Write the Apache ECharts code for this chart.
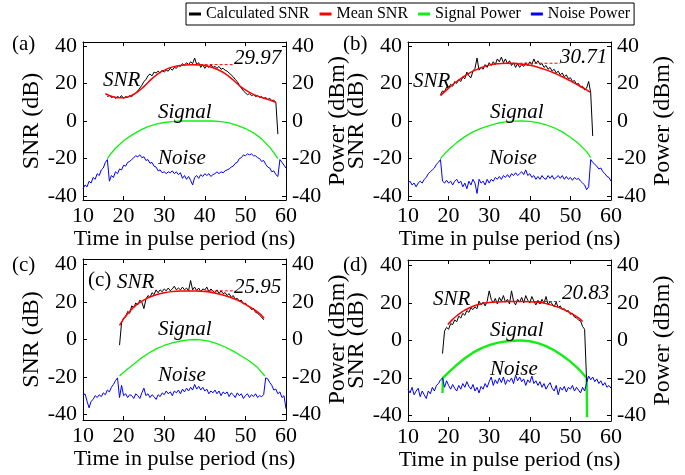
<!DOCTYPE html>
<html><head><meta charset="utf-8">
<script src="https://cdn.jsdelivr.net/npm/echarts@6/dist/echarts.min.js"></script>
<style>html,body{margin:0;padding:0;background:#fff}#c{width:685px;height:475px}</style>
</head><body><div id="c"></div>
<script>
// ---------- data ----------
const timeTicks = [10, 20, 30, 40, 50, 60];
const yTickValues = [-40, -20, 0, 20, 40];
const legendNames = ['Calculated SNR', 'Mean SNR', 'Signal Power', 'Noise Power'];
const STEP = 0.5; // ns between samples of the noisy traces

// ----- panel (a) -----
const snrA_start = 16;
const snrA = [
  13, 13.5, 12.5, 13, 12, 13, 12.5, 13.5, 12, 13,
  12.5, 13.5, 13, 14, 15, 16, 17.5, 19, 21, 22,
  24, 25, 24, 26, 25.5, 26.5, 25.5, 27, 26, 27,
  26.5, 28, 27, 28.5, 28, 29.5, 29, 30.5, 29.5, 31,
  30, 31.5, 30.5, 33.5, 30, 31, 28.5, 30, 28, 29.5,
  28.5, 30, 28.5, 29, 28, 29, 27.5, 28, 27, 26.5,
  25.5, 24.5, 23.5, 22, 21, 19, 17.5, 16, 15, 14,
  14.5, 13.5, 14, 13, 13.5, 12.5, 13, 12, 12.5, 11.5,
  12, 11, 11, 10, -7
];
const meanA = [[15.5,14.5],[17,13.2],[19,12.3],[21,12.8],[23,14.8],[25,18.3],[27,22.5],[29,25.8],[31,28],[33,29.2],[35,29.8],[37,29.97],[39,29.8],[41,29],[43,27.5],[45,25.2],[47,21.8],[49,18],[51,15.2],[53,13.2],[55,11.8],[57.5,10]];
const signalA = [[16,-20],[17,-17],[18,-14.5],[20,-10.5],[22,-7.5],[24,-5],[26,-3],[28,-1.7],[30,-0.8],[32,-0.3],[34,0],[38,0],[42,0],[44,-0.3],[46,-1],[48,-2.3],[50,-4],[52,-6.3],[54,-9.5],[56,-14],[57,-16.8],[58,-20]];
const noiseA_start = 10;
const noiseA = [
  -36, -34, -35, -32, -33, -30, -31, -28, -29, -26,
  -25, -22, -20.5, -32, -29, -30, -27, -28, -25.5, -26,
  -23.5, -24, -22, -21.5, -20.5, -19.5, -18.5, -19, -18, -19.5,
  -19, -21, -20.5, -22.5, -22, -24, -24.5, -26.5, -26, -27.5,
  -27, -28, -27, -27.5, -26.5, -28, -27, -28.5, -27.5, -30.5,
  -29, -31, -29.5, -31.5, -34, -30, -29, -30.5, -28.5, -29.5,
  -28, -29, -28, -29.5, -28.5, -28, -27, -28, -27, -27.5,
  -26.5, -26, -25.5, -24.5, -24, -22.5, -22, -20, -19.5, -18,
  -18.5, -17.5, -18, -17.5, -18.5, -18.5, -19.5, -20, -21.5, -21,
  -23, -24.5, -25, -27, -26.5, -28.5, -29.5, -20.5, -22, -23.5,
  -25
];
const dashA = [[37.5, 29.97], [47, 29.97]];
const peakLabelA = '29.97';

// ----- panel (b) -----
const snrB_start = 18;
const snrB = [
  14, 16, 15.5, 18, 17.5, 19.5, 18.5, 21, 20, 22,
  21, 23.5, 22.5, 26, 24, 23, 26.5, 28, 33.5, 27,
  28.5, 27.5, 30, 28.5, 31, 29.5, 31.5, 30, 33, 31.5,
  34, 31, 33, 30.5, 32, 29.5, 31, 28.5, 30.5, 28.5,
  30, 29, 31, 29.5, 31.5, 30, 33, 30.5, 32, 30,
  30.5, 28.5, 29.5, 27.5, 28.5, 26.5, 27.5, 25.5, 26.5, 24.5,
  25.5, 23.5, 24.5, 22.5, 23, 21, 21.5, 19.5, 20, 18,
  18.5, 16.5, 17.5, 21, 15, -8
];
const meanB = [[18,13.5],[20,17.5],[22,21],[24,24],[26,26.5],[28,28.4],[30,29.7],[32,30.4],[34,30.71],[36,30.6],[38,30.2],[40,29.6],[42,28.6],[44,27.2],[46,25.5],[48,23.5],[50,21.3],[52,19],[54,16.5],[54.8,15.3]];
const signalB = [[18,-20],[19,-17.5],[20,-15.3],[22,-11.5],[24,-8.3],[26,-5.8],[28,-3.9],[30,-2.4],[32,-1.2],[34,-0.5],[36,-0.1],[38,0],[40,-0.2],[42,-0.9],[44,-2],[46,-3.6],[48,-5.8],[50,-8.6],[52,-12],[54,-16.3],[55,-19.5]];
const noiseB_start = 10;
const noiseB = [
  -33, -32, -34, -33, -35, -33, -32, -33, -31, -30,
  -28, -27, -26, -25, -23, -22, -20.5, -32, -33, -31.5,
  -33, -32, -34, -32, -31, -33, -32, -35, -33, -36,
  -32, -34, -31, -33, -38.5, -31, -33, -32, -34, -31,
  -33, -31, -32, -30, -31, -29.5, -31, -29, -30, -28.5,
  -30, -28, -29, -27.5, -29, -28, -27, -28.5, -26, -29,
  -28, -30, -29, -31, -29.5, -31, -29, -30.5, -31, -29,
  -30.5, -29, -31, -30, -29, -30.5, -29, -31, -29.5, -31,
  -30, -31.5, -30, -31, -30.5, -32, -33, -34, -36.5, -35,
  -20.5, -22, -23, -24, -25.5, -25, -27, -28, -29.5, -30,
  -32
];
const dashB = [[35, 30.71], [47.5, 30.71]];
const peakLabelB = '30.71';

// ----- panel (c) -----
const snrC_start = 19;
const snrC = [
  -3, 9, 11.5, 12, 15, 14, 18, 17, 19.5, 18.5,
  21, 20, 16.5, 21.5, 23.5, 22.5, 25, 24, 26.5, 25,
  26.5, 25.5, 27, 26, 27.5, 26, 27, 28.5, 26.5, 27.5,
  26.5, 28, 26.5, 27.5, 26, 31.5, 26.5, 28, 26, 27.5,
  25.5, 27, 26.5, 28, 25.5, 27, 26, 25, 26.5, 24.5,
  26, 24.5, 25, 23.5, 24.5, 22.5, 23.5, 21.5, 22, 20.5,
  21, 19, 19.5, 18, 17.5, 16, 16.5, 14.5, 14, 13,
  12, 10.5
];
const meanC = [[19,7.5],[20,11],[21,13.8],[22,16.2],[23,18.2],[24,19.8],[26,22.2],[28,23.9],[30,25],[32,25.6],[34,25.9],[36,25.95],[38,25.9],[40,25.6],[42,25],[44,24],[46,22.7],[48,21],[50,18.8],[52,16.2],[53.5,13.8],[54.6,11.3]];
const signalC = [[19,-19.5],[20,-17.5],[22,-14],[24,-10.5],[26,-7.5],[28,-5],[30,-3.2],[32,-1.8],[34,-0.8],[36,-0.2],[37.5,0],[39,-0.2],[41,-0.9],[43,-2.2],[45,-4],[47,-6.2],[49,-8.8],[51,-11.5],[53,-15],[54.8,-19.5]];
const noiseC_start = 10;
const noiseC = [
  -30, -29, -33, -36.5, -33, -32, -30, -31, -29.5, -30.5,
  -28.5, -29.5, -27, -28, -25.5, -24, -22, -20.5, -31, -24.5,
  -30, -29, -31, -29.5, -30, -31.5, -29, -30, -31.5, -28.5,
  -26, -30, -29, -31, -29.5, -30.5, -32, -29.5, -30.5, -28.5,
  -29.5, -27.5, -29, -28, -30, -27.5, -28.5, -27, -29, -26.5,
  -28, -26, -27.5, -25.5, -27, -24, -26.5, -25, -27, -25.5,
  -27.5, -26.5, -29, -27.5, -28.5, -27, -29, -27.5, -30, -28,
  -29, -28, -30.5, -28.5, -29.5, -31, -28.5, -30, -29, -31.5,
  -30, -29, -31, -29.5, -30.5, -29, -31, -30, -30.5, -29.5,
  -20.5, -21, -23, -24.5, -27, -26.5, -29, -28, -31, -30,
  -37
];
const dashC = [[40, 25.95], [47.5, 25.95]];
const peakLabelC = '25.95';

// ----- panel (d) -----
const snrD_start = 18.5;
const snrD = [
  -7, 5, 7, 6, 9, 8.5, 11, 10, 13, 12,
  14.5, 13.5, 16, 15, 17.5, 16.5, 18, 17, 21, 19,
  20.5, 18.5, 21, 26.5, 22, 20, 22.5, 19.5, 23, 21,
  24, 20.5, 22, 19.5, 26.5, 21, 19, 22, 20.5, 23,
  20, 24, 21.5, 20, 23.5, 21, 19, 21.5, 19.5, 22,
  20, 23.5, 19, 21, 19.5, 18, 20.5, 17.5, 18.5, 16.5,
  17, 15.5, 16, 14, 14.5, 12.5, 12, 11, 10.5, 7.5,
  6, -22
];
const meanD = [[19.8,8.5],[21,11.3],[22,13.2],[23,14.8],[24,16.2],[26,18.3],[28,19.6],[30,20.3],[32,20.6],[34,20.75],[36,20.83],[38,20.83],[40,20.75],[42,20.4],[44,19.7],[46,18.5],[48,16.9],[50,14.8],[52,12.1],[53,10.2]];
const signalD = [[18.5,-28],[18.6,-20],[20,-17],[22,-13],[24,-9.5],[26,-6.5],[28,-4.2],[30,-2.5],[32,-1.3],[34,-0.5],[36,-0.1],[37,0],[38,0],[40,-0.4],[42,-1.4],[44,-3],[46,-5.2],[48,-8],[50,-11.3],[52,-15.2],[53,-17.5],[54,-20],[54.1,-41]];
const noiseD_start = 10;
const noiseD = [
  -26, -28, -25, -29, -27, -25.5, -30, -27, -29, -31,
  -27, -28.5, -25, -27, -24, -23, -21, -20, -25, -21.5,
  -24, -26, -23.5, -25.5, -27, -24, -26, -23, -25, -22,
  -24.5, -26, -23.5, -27, -25, -28, -24.5, -26, -23, -25,
  -22, -19.5, -24, -21, -23, -20, -22.5, -19.5, -23.5, -21,
  -22, -20, -23, -18.5, -21.5, -19.5, -22, -20.5, -24, -21,
  -22.5, -19, -23, -21.5, -24, -22, -25, -23, -26, -24,
  -22.5, -25.5, -27, -24, -29, -25, -26.5, -24.5, -27.5, -25,
  -26, -24, -27, -25, -26.5, -28, -25, -27, -22.5, -19,
  -21, -19.5, -22, -20.5, -23, -21.5, -24, -22.5, -25, -24,
  -25.5
];
const dashD = [[41, 20.83], [47.5, 20.83]];
const peakLabelD = '20.83';

// ---------- layout / style ----------
const FONT = '"Liberation Serif", "Times New Roman", serif';
const panels = [
  { tag: '(a)', grid: { left: 83, top: 42, width: 203, height: 158 }, yr: [-42, 42],
    snr: [snrA_start, snrA], mean: meanA, signal: signalA, noise: [noiseA_start, noiseA], dash: dashA, peak: peakLabelA, sigW: 1.3,
    tagPos: [12, 44], snrPos: [103, 80], sigPos: [158, 112], noisePos: [158, 158], peakPos: [234, 58] },
  { tag: '(b)', grid: { left: 408, top: 42, width: 203, height: 158 }, yr: [-42, 42],
    snr: [snrB_start, snrB], mean: meanB, signal: signalB, noise: [noiseB_start, noiseB], dash: dashB, peak: peakLabelB, sigW: 1.3,
    tagPos: [343, 44], snrPos: [413, 81], sigPos: [490, 112], noisePos: [489, 158], peakPos: [560, 57] },
  { tag: '(c)', grid: { left: 83, top: 259, width: 203, height: 161 }, yr: [-43, 43],
    snr: [snrC_start, snrC], mean: meanC, signal: signalC, noise: [noiseC_start, noiseC], dash: dashC, peak: peakLabelC, sigW: 1.3,
    tagPos: [12, 265], snrPos: [117, 282], sigPos: [158, 329], noisePos: [158, 375], peakPos: [234, 287], innerTag: [88, 280] },
  { tag: '(d)', grid: { left: 408, top: 260, width: 203, height: 161 }, yr: [-43, 43],
    snr: [snrD_start, snrD], mean: meanD, signal: signalD, noise: [noiseD_start, noiseD], dash: dashD, peak: peakLabelD, sigW: 2.4,
    tagPos: [343, 265], snrPos: [433, 299], sigPos: [490, 330], noisePos: [490, 369], peakPos: [562, 293] }
];

function seq(start, vals) { return vals.map((v, i) => [start + i * STEP, v]); }

const labelStyle = { fontFamily: FONT, fontSize: 22, color: '#000' };
const grids = [], xAxes = [], yAxes = [], series = [], graphics = [];

panels.forEach((p, i) => {
  grids.push(Object.assign({ containLabel: false }, p.grid));
  xAxes.push({ gridIndex: i, type: 'value', position: 'bottom', min: 10, max: 60, interval: 10,
    name: 'Time in pulse period (ns)', nameLocation: 'middle', nameGap: 25,
    nameTextStyle: { fontFamily: FONT, fontSize: 22, color: '#000' },
    axisLine: { onZero: false, lineStyle: { color: '#000', width: 1 } },
    axisTick: { inside: true, length: 4, lineStyle: { color: '#000' } },
    axisLabel: Object.assign({ margin: 5, customValues: timeTicks }, labelStyle),
    splitLine: { show: false } });
  xAxes.push({ gridIndex: i, type: 'value', position: 'top', min: 10, max: 60, interval: 10,
    axisLine: { onZero: false, lineStyle: { color: '#000', width: 1 } },
    axisTick: { inside: true, length: 4, lineStyle: { color: '#000' } },
    axisLabel: { show: false }, splitLine: { show: false } });
  yAxes.push({ gridIndex: i, type: 'value', position: 'left', min: p.yr[0], max: p.yr[1],
    name: 'SNR (dB)', nameLocation: 'middle', nameGap: 38, nameRotate: 90,
    nameTextStyle: { fontFamily: FONT, fontSize: 24, color: '#000' },
    axisLine: { show: true, onZero: false, lineStyle: { color: '#000', width: 1 } },
    axisTick: { show: true, inside: true, length: 4, customValues: yTickValues, lineStyle: { color: '#000' } },
    axisLabel: Object.assign({ margin: 6, customValues: yTickValues }, labelStyle),
    splitLine: { show: false } });
  yAxes.push({ gridIndex: i, type: 'value', position: 'right', min: p.yr[0], max: p.yr[1],
    name: 'Power (dBm)', nameLocation: 'middle', nameGap: 36, nameRotate: 90,
    nameTextStyle: { fontFamily: FONT, fontSize: 24, color: '#000' },
    axisLine: { show: true, onZero: false, lineStyle: { color: '#000', width: 1 } },
    axisTick: { show: true, inside: true, length: 4, customValues: yTickValues, lineStyle: { color: '#000' } },
    axisLabel: Object.assign({ margin: 6, customValues: yTickValues }, labelStyle),
    splitLine: { show: false } });

  const xi = 2 * i, yl = 2 * i, yr = 2 * i + 1;
  const base = { type: 'line', showSymbol: false, symbol: 'none', animation: false, xAxisIndex: xi };
  series.push(Object.assign({}, base, { name: 'Signal Power', yAxisIndex: yr, data: p.signal,
    lineStyle: { color: '#11ee11', width: p.sigW }, itemStyle: { color: '#11ee11' }, z: 2 }));
  series.push(Object.assign({}, base, { name: 'Noise Power', yAxisIndex: yr, data: seq(p.noise[0], p.noise[1]),
    lineStyle: { color: '#0000ff', width: 1 }, itemStyle: { color: '#0000ff' }, z: 3 }));
  series.push(Object.assign({}, base, { name: 'Calculated SNR', yAxisIndex: yl, data: seq(p.snr[0], p.snr[1]),
    lineStyle: { color: '#000', width: 1 }, itemStyle: { color: '#000' }, z: 4 }));
  series.push(Object.assign({}, base, { name: 'Mean SNR', yAxisIndex: yl, data: p.mean, smooth: 0.4,
    lineStyle: { color: '#ff0000', width: 1.5 }, itemStyle: { color: '#ff0000' }, z: 5 }));
  series.push(Object.assign({}, base, { name: 'meanPeak', yAxisIndex: yl, data: p.dash,
    lineStyle: { color: '#ff0000', width: 1, type: [3, 2] }, z: 5 }));

  const txt = (pos, text, italic) => ({ type: 'text', x: pos[0], y: pos[1], silent: true, z: 20,
    style: { text, font: (italic ? 'italic ' : '') + '21px ' + FONT, fill: '#000', align: 'left', verticalAlign: 'middle' } });
  graphics.push(txt(p.tagPos, p.tag, false));
  if (p.innerTag) graphics.push(txt(p.innerTag, p.tag, false));
  graphics.push(txt(p.snrPos, 'SNR', true));
  graphics.push(txt(p.sigPos, 'Signal', true));
  graphics.push(txt(p.noisePos, 'Noise', true));
  graphics.push(txt(p.peakPos, p.peak, true));
});

const chart = echarts.init(document.getElementById('c'), null, { renderer: 'canvas' });
chart.setOption({
  animation: false,
  backgroundColor: '#fff',
  legend: { data: legendNames, left: 186, top: 3, width: 470, icon: 'rect', itemWidth: 12, itemHeight: 3, itemGap: 10,
    borderColor: '#000', borderWidth: 1, padding: [3, 4, 3, 3],
    textStyle: { fontFamily: FONT, fontSize: 16, color: '#000' } },
  grid: grids, xAxis: xAxes, yAxis: yAxes, series: series, graphic: graphics
});
</script></body></html>
